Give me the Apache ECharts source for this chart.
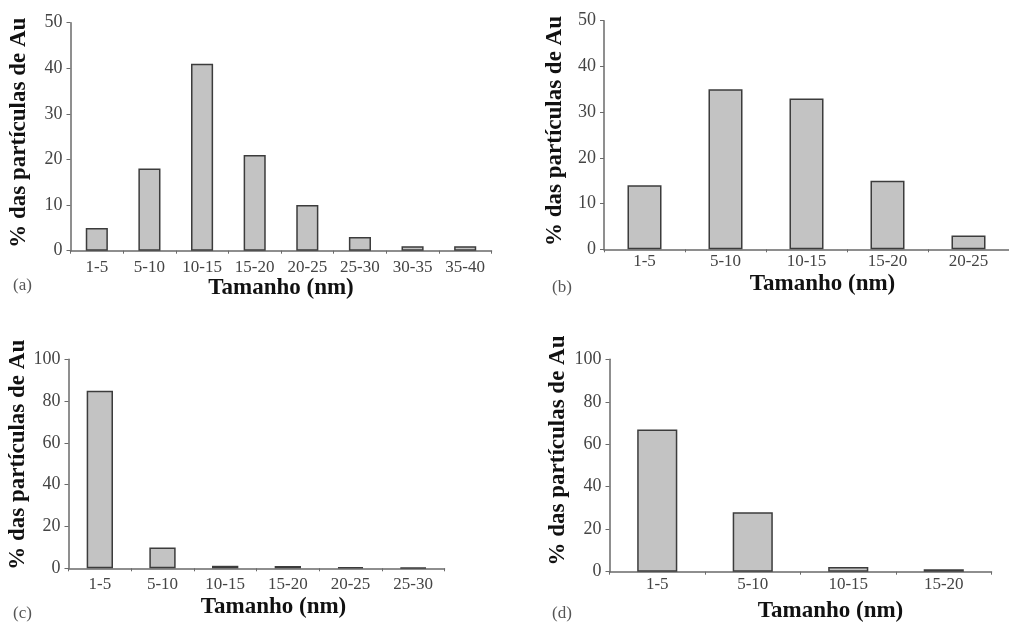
<!DOCTYPE html>
<html>
<head>
<meta charset="utf-8">
<script src="https://cdn.jsdelivr.net/npm/echarts@6/dist/echarts.min.js"></script>
<style>
  html, body { margin: 0; padding: 0; background: #fff; }
  #chart { width: 1009px; height: 625px; }
</style>
</head>
<body>
<div id="chart"></div>
<script>
// Size-distribution histograms of Au particles, four samples (a)-(d)
const catsA = ['1-5', '5-10', '10-15', '15-20', '20-25', '25-30', '30-35', '35-40'];
const valsA = [5, 18, 41, 21, 10, 3, 1, 1];

const catsB = ['1-5', '5-10', '10-15', '15-20', '20-25'];
const valsB = [14, 35, 33, 15, 3];

const catsC = ['1-5', '5-10', '10-15', '15-20', '20-25', '25-30'];
const valsC = [85, 10, 1.2, 1.1, 0.6, 0.3];

const catsD = ['1-5', '5-10', '10-15', '15-20'];
const valsD = [67, 28, 2.2, 1.2];

const yNameText = '% das partículas de Au';
const xNameText = 'Tamanho (nm)';
const panelTags = ['(a)', '(b)', '(c)', '(d)'];

const SERIF = '"Liberation Serif", "DejaVu Serif", serif';
const axisGray = '#6a6a6a';
const labelGray = '#444444';

const panels = [
  { cats: catsA, vals: valsA, max: 50, step: 10,
    grid: { left: 70.5, top: 22.7, width: 421, height: 228 },
    xGap: 24, xShift: 0, xMargin: 8, yGap: 40, yShift: 4 },
  { cats: catsB, vals: valsB, max: 50, step: 10,
    grid: { left: 604, top: 20.7, width: 415, height: 228.6 },
    xGap: 23, xShift: 16, xMargin: 4, yGap: 37, yShift: 4 },
  { cats: catsC, vals: valsC, max: 100, step: 20,
    grid: { left: 68.5, top: 359.3, width: 376, height: 209 },
    xGap: 27, xShift: 17, xMargin: 8, yGap: 39, yShift: 9 },
  { cats: catsD, vals: valsD, max: 100, step: 20,
    grid: { left: 609.5, top: 359.3, width: 382, height: 212.4 },
    xGap: 28, xShift: 30, xMargin: 4, yGap: 40, yShift: 15 }
];

const grids = [], xAxes = [], yAxes = [], series = [];
panels.forEach((p, i) => {
  grids.push(Object.assign({ containLabel: false }, p.grid));
  xAxes.push({
    type: 'category', gridIndex: i, data: p.cats,
    boundaryGap: true,
    axisLine: { lineStyle: { color: axisGray, width: 1.5 } },
    axisTick: { show: true, length: 3, lineStyle: { color: axisGray } },
    axisLabel: { color: labelGray, fontFamily: SERIF, fontSize: 17, margin: p.xMargin, interval: 0 },
    name: xNameText, nameLocation: 'middle', nameGap: p.xGap,
    nameTextStyle: { fontFamily: SERIF, fontSize: 23, fontWeight: 'bold', color: '#111',
                     padding: [0, 0, 0, 2 * p.xShift] }
  });
  yAxes.push({
    type: 'value', gridIndex: i, min: 0, max: p.max, interval: p.step,
    splitLine: { show: false },
    axisLine: { show: true, lineStyle: { color: axisGray, width: 1.5 } },
    axisTick: { show: true, length: 4, lineStyle: { color: axisGray } },
    axisLabel: { color: labelGray, fontFamily: SERIF, fontSize: 18, margin: 8 },
    name: yNameText, nameLocation: 'middle', nameRotate: 90, nameGap: p.yGap,
    nameTextStyle: { fontFamily: SERIF, fontSize: 23, fontWeight: 'bold', color: '#111',
                     padding: [0, 0, 0, 2 * p.yShift] }
  });
  series.push({
    type: 'bar', xAxisIndex: i, yAxisIndex: i, data: p.vals,
    barWidth: '42%',
    itemStyle: { color: '#c3c3c3', borderColor: '#3c3c3c', borderWidth: 1.5 },
    silent: true
  });
});

const tagPos = [[13, 286], [552, 288], [13, 614], [552, 614]];
const graphics = panelTags.map((t, i) => ({
  type: 'text', left: tagPos[i][0], top: tagPos[i][1] - 9,
  style: { text: t, font: '17px ' + SERIF, fill: '#555' }
}));

const chart = echarts.init(document.getElementById('chart'), null, { renderer: 'canvas' });
chart.setOption({
  backgroundColor: '#ffffff',
  animation: false,
  grid: grids,
  xAxis: xAxes,
  yAxis: yAxes,
  series: series,
  graphic: graphics
});
</script>
</body>
</html>
